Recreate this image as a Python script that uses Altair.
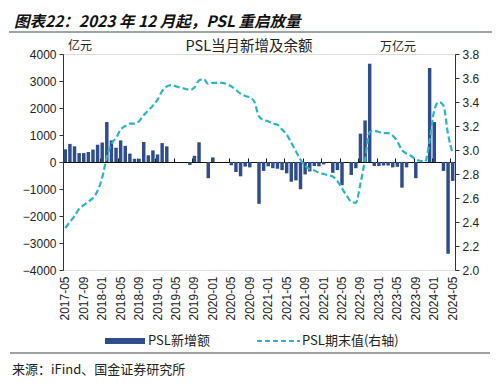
import altair as alt
import pandas as pd

# ---- data ----
months = [str(p) for p in pd.period_range("2017-05", "2024-05", freq="M")]
tick_labels = months[::4]

# PSL monthly net increase (亿元)
psl_new = [
    470, 670, 580, 330, 330, 370, 460, 640,            # 2017-05 .. 2017-12
    720, 1480, 800, 530, 800, 600, 310, 120, 120, 740, 250, 430,   # 2018
    280, 700, 580, 0, 0, 0, 0, -110, 230, 730, 0, -600,            # 2019
    170, 0, 0, 0, -120, -370, -530, -170, -200, 0, -1550, -330,    # 2020
    -160, -230, -250, -300, -420, -730, -680, -1010, -460, -350, -150, -160,  # 2021
    -90, 0, -400, -300, -860, 0, -480, -230, 1050, 1540, 3640, -150,          # 2022
    -150, -130, -130, -200, -180, -950, -200, 0, -600, 0, 0, 3480,            # 2023
    1480, 0, -330, -3400, -700,                                              # 2024-01 .. 05
]

# PSL end-of-period balance (万亿元, right axis)
psl_bal = [
    2.35, 2.40, 2.45, 2.51, 2.54, 2.57, 2.60, 2.66,
    2.77, 2.94, 3.05, 3.10, 3.17, 3.20, 3.22, 3.22, 3.24, 3.29, 3.33, 3.37,
    3.42, 3.49, 3.53, 3.54, 3.53, 3.52, 3.51, 3.50, 3.52, 3.58, 3.59, 3.55,
    3.56, 3.56, 3.56, 3.55, 3.53, 3.50, 3.47, 3.45, 3.44, 3.40, 3.28, 3.25,
    3.24, 3.22, 3.21, 3.17, 3.13, 3.06, 2.99, 2.92, 2.87, 2.84, 2.83, 2.81,
    2.80, 2.79, 2.78, 2.74, 2.68, 2.62, 2.57, 2.56, 2.72, 2.92, 3.15, 3.16,
    3.15, 3.14, 3.14, 3.12, 3.07, 3.00, 2.97, 2.95, 2.92, 2.91, 2.90, 3.08,
    3.33, 3.40, 3.37, 3.13, 2.97,
]

left_ticks = [-4000, -3000, -2000, -1000, 0, 1000, 2000, 3000, 4000]
right_ticks = [2.0, 2.2, 2.4, 2.6, 2.8, 3.0, 3.2, 3.4, 3.6, 3.8]

title_text = "图表22：2023 年 12 月起，PSL 重启放量"
chart_title = "PSL当月新增及余额"
left_unit = "亿元"
right_unit = "万亿元"
legend_bar = "PSL新增额"
legend_line = "PSL期末值(右轴)"
source_text = "来源：iFind、国金证券研究所"

df = pd.DataFrame({"month": months, "new": psl_new, "bal": psl_bal})

BAR_COLOR = "#2F4C8C"
LINE_COLOR = "#2BB3C6"
AXIS_COLOR = "#333333"
FONT = "Liberation Sans"
CJK = "Noto Sans CJK SC"

W, H = 392, 216
x_scale = alt.Scale(paddingInner=0.25, paddingOuter=0.125)

base = alt.Chart(df)

bars = base.mark_bar(color=BAR_COLOR).encode(
    x=alt.X("month:N", sort=months, scale=x_scale,
            axis=alt.Axis(values=tick_labels, labelAngle=270, title=None,
                          domain=False, ticks=False, tickSize=0, labelPadding=6,
                          labelFont=FONT, labelFontSize=12, labelColor="#222222")),
    y=alt.Y("new:Q", scale=alt.Scale(domain=[-4000, 4000], nice=False, zero=False),
            axis=alt.Axis(values=left_ticks, format="d", title=None, orient="left",
                          grid=False, domainColor=AXIS_COLOR, tickColor=AXIS_COLOR,
                          tickSize=4, labelFont=FONT, labelFontSize=12,
                          labelColor="#222222", labelPadding=3)),
)

line = base.mark_line(color=LINE_COLOR, strokeWidth=2.2, strokeDash=[6, 3],
                      interpolate="monotone").encode(
    x=alt.X("month:N", sort=months, scale=x_scale,
            axis=alt.Axis(values=tick_labels, labels=False, title=None, offset=-H / 2,
                          domain=True, domainColor="#111111", domainWidth=1.2,
                          ticks=True, tickSize=4, tickColor="#111111",
                          bandPosition=0)),
    y=alt.Y("bal:Q", scale=alt.Scale(domain=[2.0, 3.8], nice=False, zero=False),
            axis=alt.Axis(values=right_ticks, format=".1f", title=None, orient="right",
                          grid=False, domainColor=AXIS_COLOR, tickColor=AXIS_COLOR,
                          tickSize=4, labelFont=FONT, labelFontSize=12,
                          labelColor="#222222", labelPadding=3)),
)


def txt(text, x, y, size=12, font=CJK, align="left", weight="normal", style="normal",
        color="#222222", baseline="middle"):
    return alt.Chart(pd.DataFrame({"t": [text]})).mark_text(
        align=align, baseline=baseline, fontSize=size, font=font,
        fontWeight=weight, fontStyle=style, color=color
    ).encode(x=alt.value(x), y=alt.value(y), text="t:N")


def hrule(x1, x2, y, color, width=1.0, dash=None):
    kw = dict(color=color, strokeWidth=width)
    if dash:
        kw["strokeDash"] = dash
    return alt.Chart(pd.DataFrame({"a": [0]})).mark_rule(**kw).encode(
        x=alt.value(x1), x2=alt.value(x2), y=alt.value(y))


layers = [
    bars,
    line,
    txt(title_text, -49, -32, size=15.5, weight="bold", style="italic",
        color="#111111", baseline="middle"),
    hrule(-54, 429, -22, "#3E4E48", 1.2),
    txt(left_unit, 5, -8, size=12),
    txt(chart_title, 186, -7, size=14.5, align="center"),
    txt(right_unit, 317, -7, size=12),
    hrule(42, 82, 287, BAR_COLOR, 6),
    txt(legend_bar, 85, 287, size=13),
    hrule(194, 237, 287, LINE_COLOR, 2.2, [5, 3]),
    txt(legend_line, 239, 287, size=13),
    hrule(-53, 427, 299, "#444444", 1.0),
    txt(source_text, -51, 316, size=13),
]

chart = alt.layer(*layers).resolve_scale(y="independent").resolve_axis(
    x="independent", y="independent"
).properties(
    width=W, height=H,
    padding={"left": 55, "top": 46, "right": 37, "bottom": 109},
    autosize=alt.AutoSizeParams(type="none"),
).configure_view(stroke=None).configure(background="white")

chart.save("out.html", embed_options={"renderer": "svg", "actions": False})
